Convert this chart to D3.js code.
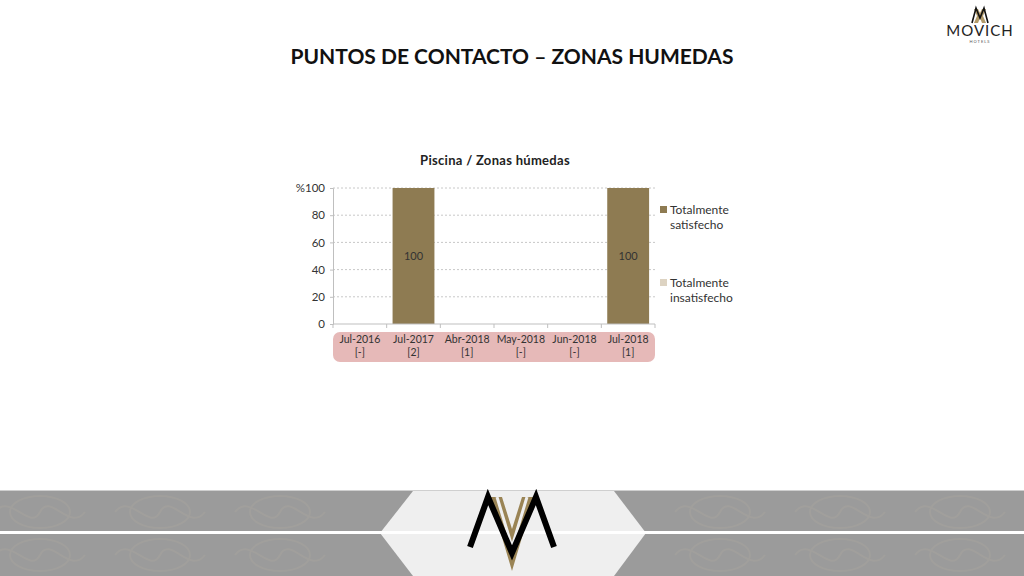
<!DOCTYPE html>
<html><head><meta charset="utf-8">
<script src="https://cdn.jsdelivr.net/npm/d3@7"></script>
<style>body{margin:0;background:#fff}svg{display:block}</style>
</head><body>
<script>
const categories = ["Jul-2016","Jul-2017","Abr-2018","May-2018","Jun-2018","Jul-2018"];
const counts = ["[-]","[2]","[1]","[-]","[-]","[1]"];
const satisfecho = [0,100,0,0,0,100];
const insatisfecho = [0,0,0,0,0,0];
const yTicks = [0,20,40,60,80,100];
const seriesNames = ["Totalmente satisfecho","Totalmente insatisfecho"];
const colors = ["#8e7b52","#ddd3c2"];

const W=1024,H=576;
const svg=d3.select("body").append("svg").attr("width",W).attr("height",H);
const font="'Century Gothic','URW Gothic','Lato','DejaVu Sans',sans-serif";

// Main title
svg.append("text").attr("x",512).attr("y",64).attr("text-anchor","middle")
 .attr("font-family","Lato, 'DejaVu Sans', sans-serif").attr("font-weight","bold").attr("font-size",21)
 .attr("fill","#111").text("PUNTOS DE CONTACTO – ZONAS HUMEDAS");

// chart title
svg.append("text").attr("x",495).attr("y",165).attr("text-anchor","middle")
 .attr("font-family","Lato, sans-serif").attr("font-weight","bold").attr("font-size",13)
 .attr("letter-spacing",0.3).attr("fill","#222").text("Piscina / Zonas húmedas");

const m={l:333,r:655,t:188,b:324};
const x=d3.scaleBand().domain(categories).range([m.l,m.r]).paddingInner(0.22).paddingOuter(0.11);
const xb=d3.scaleBand().domain(categories).range([m.l,m.r]);
const y=d3.scaleLinear().domain([0,100]).range([m.b,m.t]);

// gridlines
svg.append("g").selectAll("line").data(yTicks.filter(d=>d>0)).join("line")
 .attr("x1",m.l).attr("x2",m.r).attr("y1",d=>y(d)).attr("y2",d=>y(d))
 .attr("stroke","#c8c8c8").attr("stroke-dasharray","2,2").attr("stroke-width",1);

// pink category band
svg.append("rect").attr("x",m.l).attr("y",332).attr("width",m.r-m.l).attr("height",30)
 .attr("rx",7).attr("fill","#e6b9b8");

// bars (stacked)
const stack=categories.map((c,i)=>({c,s:satisfecho[i],n:insatisfecho[i]}));
svg.append("g").selectAll("rect").data(stack).join("rect")
 .attr("x",d=>x(d.c)).attr("width",x.bandwidth())
 .attr("y",d=>y(d.s)).attr("height",d=>y(0)-y(d.s)).attr("fill",colors[0]);
svg.append("g").selectAll("rect").data(stack).join("rect")
 .attr("x",d=>x(d.c)).attr("width",x.bandwidth())
 .attr("y",d=>y(d.s+d.n)).attr("height",d=>y(d.s)-y(d.s+d.n)).attr("fill",colors[1]);
svg.append("g").selectAll("text").data(stack.filter(d=>d.s>0)).join("text")
 .attr("x",d=>x(d.c)+x.bandwidth()/2).attr("y",d=>y(d.s/2)+4).attr("text-anchor","middle")
 .attr("font-family",font).attr("font-size",11).attr("fill","#333").text(d=>d.s);

// y axis
const ya=svg.append("g").attr("transform",`translate(${m.l},0)`)
 .call(d3.axisLeft(y).tickValues(yTicks).tickSize(3).tickFormat(d=>d===100?"%100":d));
ya.select(".domain").attr("stroke","#bfbfbf");
ya.selectAll(".tick line").attr("stroke","#bfbfbf");
ya.selectAll("text").attr("font-family",font).attr("font-size",11.5).attr("fill","#333").attr("dx",-2);

// x axis
const xa=svg.append("g").attr("transform",`translate(0,${m.b})`);
xa.append("line").attr("x1",m.l).attr("x2",m.r).attr("stroke","#bfbfbf");
xa.selectAll("line.t").data(d3.range(categories.length+1)).join("line").attr("class","t")
 .attr("x1",i=>m.l+i*xb.step()).attr("x2",i=>m.l+i*xb.step()).attr("y1",0).attr("y2",4).attr("stroke","#bfbfbf");
const lab=svg.append("g").selectAll("text").data(categories).join("text")
 .attr("text-anchor","middle").attr("font-family",font).attr("font-size",10.5).attr("fill","#333");
lab.append("tspan").attr("x",d=>xb(d)+xb.bandwidth()/2).attr("y",343).text(d=>d);
lab.append("tspan").attr("x",d=>xb(d)+xb.bandwidth()/2).attr("y",356).text((d,i)=>counts[i]);

// legend
const lg=[{y:210,lines:["Totalmente","satisfecho"]},{y:283,lines:["Totalmente","insatisfecho"]}];
lg.forEach((l,i)=>{
 svg.append("rect").attr("x",660).attr("y",l.y-4).attr("width",7).attr("height",7).attr("fill",colors[i]);
 const t=svg.append("text").attr("font-family",font).attr("font-size",12).attr("fill","#333");
 l.lines.forEach((s,j)=>t.append("tspan").attr("x",670).attr("y",l.y+4+j*15).text(s));
});

// top-right logo
const lgo=svg.append("g");
lgo.append("path").attr("d","M974,9 L978,9 L980,13 L982,9 L986,9 L983,16 L986,23 L982,23 L980,18 L978,23 L974,23 L977,16Z").attr("fill","#b29b6a");
lgo.append("path").attr("d","M972,23 L976,8 L980,18 L984,8 L988,23").attr("fill","none").attr("stroke","#111").attr("stroke-width",1.6);
lgo.append("text").attr("x",980).attr("y",36).attr("text-anchor","middle").attr("font-family","Lato, sans-serif")
 .attr("font-size",15).attr("letter-spacing",1).attr("fill","#222").text("MOVICH");
lgo.append("text").attr("x",980).attr("y",43).attr("text-anchor","middle").attr("font-family","Lato, sans-serif")
 .attr("font-size",4).attr("letter-spacing",1).attr("fill","#555").text("HOTELS");

// footer
const f=svg.append("g");
f.append("rect").attr("x",0).attr("y",490).attr("width",W).attr("height",86).attr("fill","#9b9b9b");
f.append("line").attr("x1",0).attr("x2",W).attr("y1",490.5).attr("y2",490.5).attr("stroke","#cfcfcf");
// subtle damask hints
const dm=f.append("g").attr("fill","none").attr("stroke","#a5a39e").attr("stroke-width",2).attr("opacity",0.6);
[40,160,280,720,840,960].forEach(cx=>{
 [512,555].forEach(cy=>{
  dm.append("ellipse").attr("cx",cx).attr("cy",cy).attr("rx",30).attr("ry",16);
  dm.append("path").attr("d",`M${cx-45},${cy} C${cx-30},${cy-20} ${cx-10},${cy+20} ${cx},${cy} C${cx+10},${cy-20} ${cx+30},${cy+20} ${cx+45},${cy}`);
 });
});
f.append("path").attr("d","M413,491 L614,491 L646,533 L614,576 L413,576 L380,533Z").attr("fill","#efefef");
f.append("rect").attr("x",0).attr("y",531).attr("width",W).attr("height",3).attr("fill","#fff");
// central big logo
f.append("path").attr("d","M490,497 L502,497 L512,529 L522,497 L534,497 L512,571Z").attr("fill","#9a8455");
f.append("path").attr("d","M497,497 L512,547 L527,497").attr("fill","none").attr("stroke","#efefef").attr("stroke-width",3);
f.append("path").attr("d","M470,547 L488,497 L512,553 L536,497 L554,547").attr("fill","none").attr("stroke","#000").attr("stroke-width",6).attr("stroke-linejoin","miter");
</script>
</body></html>
